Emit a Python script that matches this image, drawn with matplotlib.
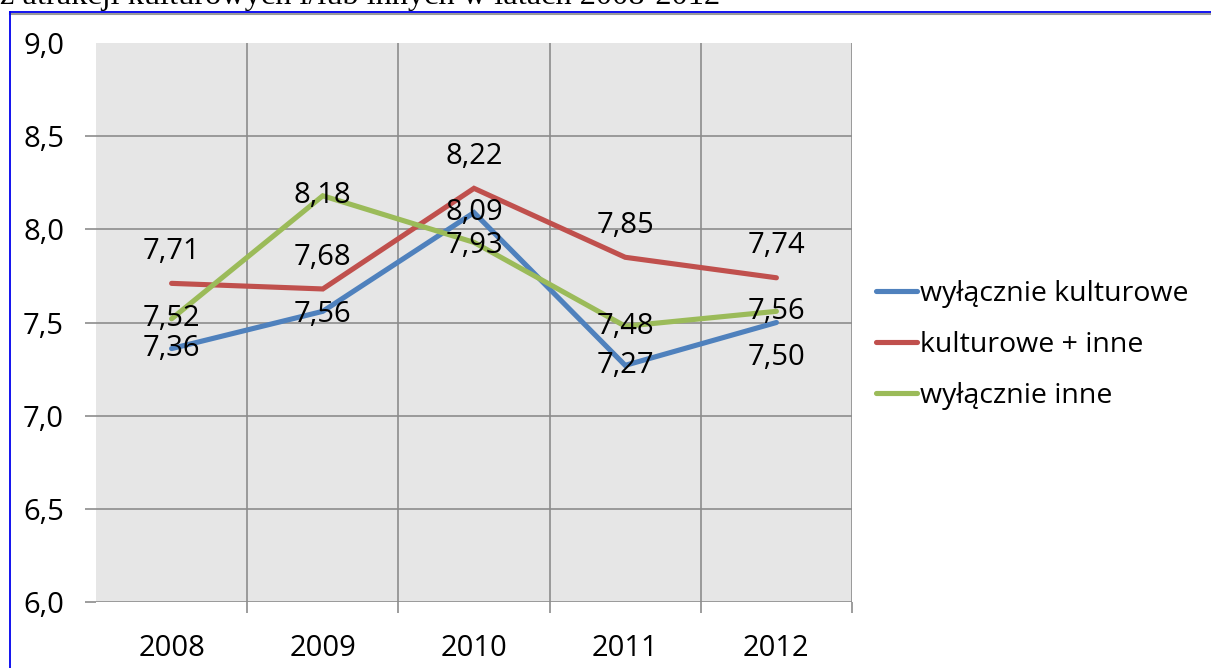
import matplotlib.pyplot as plt
from matplotlib.lines import Line2D

years = ['2008', '2009', '2010', '2011', '2012']
series_names = ['wyłącznie kulturowe', 'kulturowe + inne', 'wyłącznie inne']
kulturowe = [7.36, 7.56, 8.09, 7.27, 7.50]
kulturowe_inne = [7.71, 7.68, 8.22, 7.85, 7.74]
inne = [7.52, 8.18, 7.93, 7.48, 7.56]
yticks = [6.0, 6.5, 7.0, 7.5, 8.0, 8.5, 9.0]

colors = ['#4F81BD', '#C0504D', '#9BBB59']
# label offsets in points (y), per series / point
label_dy = [
    [0, -2, 0, 0, -25],
    [23, 23, 23, 23, 23],
    [0, 0, -2, 0, 0],
]

plt.rcParams['font.family'] = ['Open Sans', 'DejaVu Sans']
fs = 21

fig = plt.figure(figsize=(12.11, 6.68), dpi=100)
ax = fig.add_axes([96 / 1211, 1 - 602 / 668, 756 / 1211, 559 / 668])
ax.set_facecolor('#e6e6e6')

x = list(range(len(years)))
for vals, name, c in zip([kulturowe, kulturowe_inne, inne], series_names, colors):
    ax.plot(x, vals, color=c, linewidth=3.7, label=name, solid_capstyle='round',
            solid_joinstyle='miter', zorder=3)
for vals, dys in zip([kulturowe, kulturowe_inne, inne], label_dy):
    for xi, v, dy in zip(x, vals, dys):
        ax.annotate(f'{v:.2f}'.replace('.', ','), (xi, v), xytext=(0, dy),
                    textcoords='offset points', ha='center', va='center',
                    fontsize=fs, color='black', zorder=4)

ax.set_xlim(-0.5, 4.5)
ax.set_ylim(6.0, 9.0)
ax.set_xticks(x)
ax.set_xticklabels(years)
ax.set_xticks([0.5, 1.5, 2.5, 3.5, 4.5], minor=True)
ax.set_yticks(yticks)
ax.set_yticklabels([f'{v:.1f}'.replace('.', ',') for v in yticks])
for s in ax.spines.values():
    s.set_visible(False)

gc = '#8c8c8c'
ax.grid(True, axis='y', color=gc, linewidth=1.2, zorder=1)
ax.grid(True, axis='x', which='minor', color=gc, linewidth=1.2, zorder=1)
ax.set_axisbelow(True)
ax.tick_params(axis='x', which='major', length=0, pad=23, labelsize=fs)
ax.tick_params(axis='x', which='minor', length=8, width=1.2, color=gc, direction='out')
ax.tick_params(axis='y', length=8, width=1.2, color=gc, pad=15, labelsize=fs)
ax.get_ygridlines()[-1].set_visible(False)
ax.yaxis.get_major_ticks()[-1].tick1line.set_visible(False)

leg = ax.legend(loc='center left', bbox_to_anchor=(876 / 1211, 1 - 345 / 668),
                bbox_transform=fig.transFigure, frameon=False, fontsize=20.5,
                handlelength=1.45, handletextpad=0.1, labelspacing=0.82,
                borderaxespad=0, borderpad=0)

# document frame and cut-off caption
fig.text(0.0, 1 - 4 / 668, 'z atrakcji kulturowych i/lub innych w latach 2008-2012',
         family='Liberation Serif', fontsize=23.3, va='baseline', ha='left')
fig.add_artist(Line2D([10 / 1211, 1], [1 - 14 / 668, 1 - 14 / 668], color='#999999',
                      linewidth=1.5, transform=fig.transFigure))
fig.add_artist(Line2D([10 / 1211, 1], [1 - 12 / 668, 1 - 12 / 668], color='#0000ee',
                      linewidth=1.3, transform=fig.transFigure))
fig.add_artist(Line2D([10 / 1211, 10 / 1211], [0, 1 - 12 / 668], color='#0000ee',
                      linewidth=1.3, transform=fig.transFigure))

fig.savefig('out.png', dpi=100)
